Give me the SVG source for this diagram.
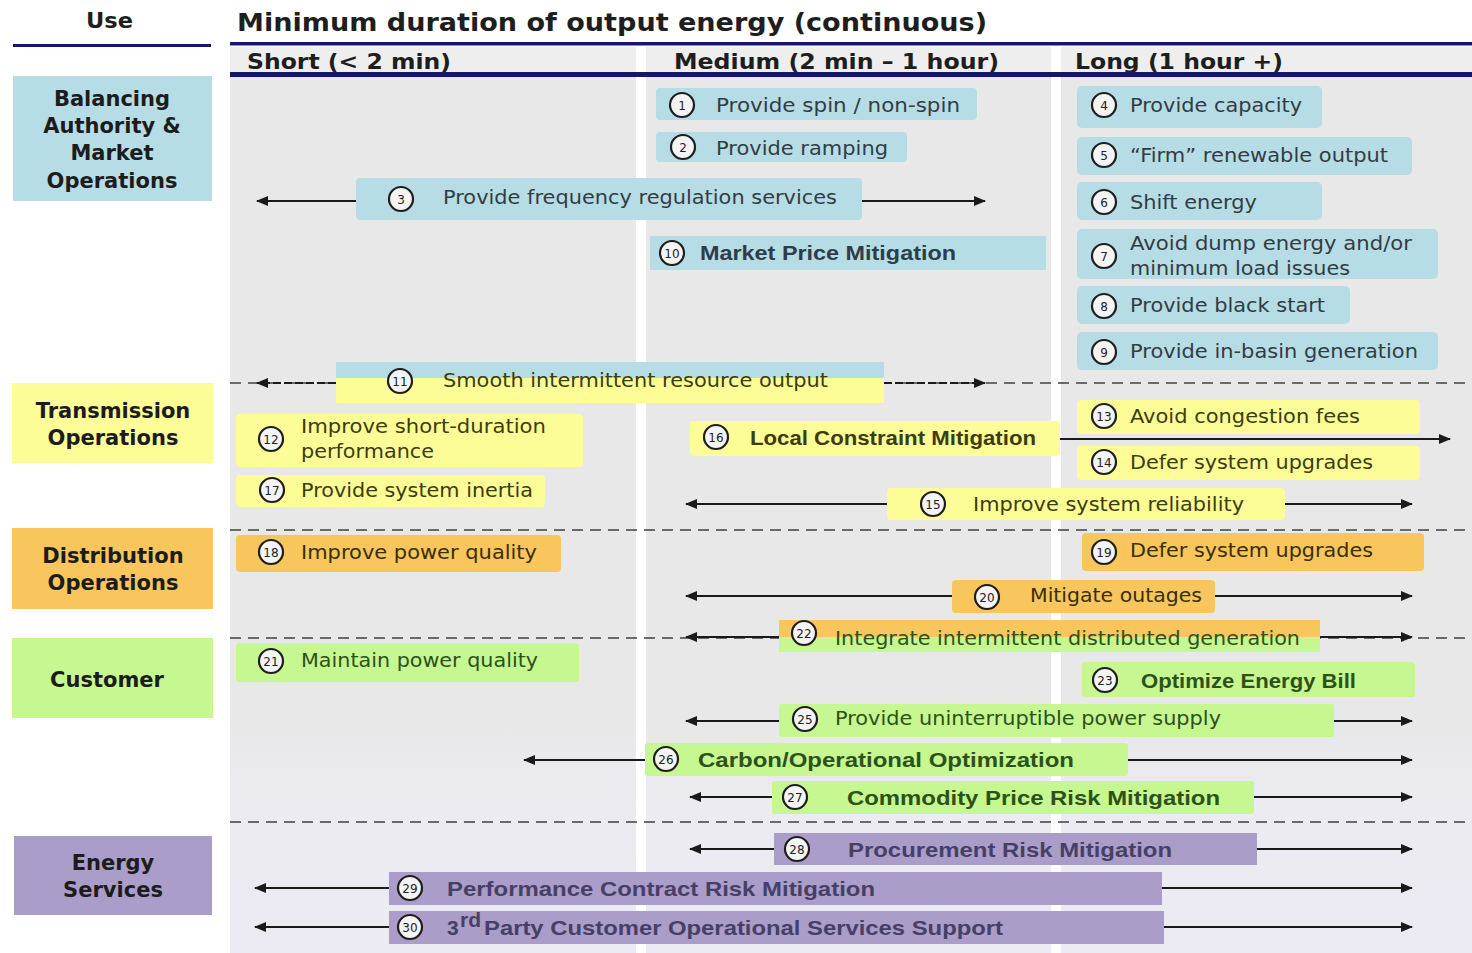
<svg xmlns="http://www.w3.org/2000/svg" width="1472" height="953" viewBox="0 0 1472 953">
  <defs>
    <linearGradient id="bgGrad" x1="0" y1="0" x2="0" y2="1">
      <stop offset="0" stop-color="#e8e8e8"/>
      <stop offset="0.74" stop-color="#e8e8e8"/>
      <stop offset="0.84" stop-color="#ecebf1"/>
      <stop offset="1" stop-color="#eceaf2"/>
    </linearGradient>
    <marker id="ah" markerUnits="userSpaceOnUse" markerWidth="12" markerHeight="10" refX="11" refY="5" orient="auto">
      <path d="M0,0 L12,5 L0,10 z" fill="#1a1a1a"/>
    </marker>
    <style>
      .hdr { font-family: "DejaVu Sans", Verdana, sans-serif; font-weight: bold; fill: #1e1e1e; }
      .cat { font-family: "DejaVu Sans", Verdana, sans-serif; font-weight: bold; font-size: 21px; fill: #1c1c1c; text-anchor: middle; }
      .t { font-family: "DejaVu Sans", Verdana, sans-serif; font-size: 19px; }
      .tb { font-family: "Liberation Sans", Arial, sans-serif; font-size: 21px; font-weight: bold; }
      .blue { fill: #b6dde5; }
      .yel { fill: #fdfd98; }
      .org { fill: #f8c65c; }
      .grn { fill: #c6f790; }
      .pur { fill: #aa9dc9; }
      .cb { fill: #323c44; }
      .cy { fill: #3c3c0c; }
      .co { fill: #3a2e05; }
      .cg { fill: #2c5219; }
      .cp { fill: #463f66; }
      .num circle { fill: #f4f4f4; stroke: #1e1e1e; stroke-width: 2.2; }
      .num text { font-family: "DejaVu Sans", Verdana, sans-serif; font-size: 12px; fill: #222; text-anchor: middle; }
      .dash { stroke: #6a6a6a; stroke-width: 2; stroke-dasharray: 11 7; fill: none; }
      .arr { stroke: #1a1a1a; stroke-width: 2.2; fill: none; marker-end: url(#ah); }
      .arrd { stroke: #1a1a1a; stroke-width: 2.2; fill: none; stroke-dasharray: 8 3; marker-end: url(#ah); }
      .navy { fill: #17176a; }
    </style>
  </defs>

  <!-- page and content panel -->
  <rect x="0" y="0" width="1472" height="953" fill="#ffffff"/>
  <rect x="230" y="47" width="1242" height="906" fill="url(#bgGrad)"/>
  <rect x="230" y="47" width="1242" height="27" fill="#eeeeee"/>
  <!-- column gutters -->
  <rect x="636" y="47" width="10" height="906" fill="#ffffff"/>
  <rect x="1051" y="47" width="10" height="906" fill="#ffffff"/>

  <!-- header -->
  <g id="header">
    <text class="hdr" x="86" y="28" font-size="22" textLength="47" lengthAdjust="spacingAndGlyphs">Use</text>
    <rect class="navy" x="13" y="44" width="198" height="3"/>
    <text class="hdr" x="237" y="31" font-size="24" textLength="750" lengthAdjust="spacingAndGlyphs">Minimum duration of output energy (continuous)</text>
    <rect class="navy" x="230" y="42" width="1242" height="3.5"/>
    <text class="hdr" x="247" y="69" font-size="21" textLength="204" lengthAdjust="spacingAndGlyphs">Short (&lt; 2 min)</text>
    <text class="hdr" x="674" y="69" font-size="21" textLength="325" lengthAdjust="spacingAndGlyphs">Medium (2 min – 1 hour)</text>
    <text class="hdr" x="1075" y="69" font-size="21" textLength="208" lengthAdjust="spacingAndGlyphs">Long (1 hour +)</text>
    <rect class="navy" x="230" y="72" width="1242" height="5"/>
  </g>

  <!-- row dividers -->
  <g id="dividers">
    <line class="dash" x1="230" y1="383" x2="1472" y2="383"/>
    <line class="dash" x1="230" y1="530" x2="1472" y2="530"/>
    <line class="dash" x1="230" y1="638" x2="1472" y2="638"/>
    <line class="dash" x1="230" y1="822" x2="1472" y2="822"/>
  </g>

  <!-- category labels -->
  <g id="cat-balancing">
    <rect class="blue" x="13" y="76" width="199" height="125"/>
    <text class="cat" x="112" y="106">Balancing</text>
    <text class="cat" x="112" y="133">Authority &amp;</text>
    <text class="cat" x="112" y="160">Market</text>
    <text class="cat" x="112" y="188">Operations</text>
  </g>
  <g id="cat-transmission">
    <rect class="yel" x="12" y="383" width="201" height="80"/>
    <text class="cat" x="113" y="418">Transmission</text>
    <text class="cat" x="113" y="445">Operations</text>
  </g>
  <g id="cat-distribution">
    <rect class="org" x="12" y="528" width="201" height="81"/>
    <text class="cat" x="113" y="563">Distribution</text>
    <text class="cat" x="113" y="590">Operations</text>
  </g>
  <g id="cat-customer">
    <rect class="grn" x="12" y="638" width="201" height="80"/>
    <text class="cat" x="107" y="687">Customer</text>
  </g>
  <g id="cat-energy-services">
    <rect class="pur" x="14" y="836" width="198" height="79"/>
    <text class="cat" x="113" y="870">Energy</text>
    <text class="cat" x="113" y="897">Services</text>
  </g>

  <!-- connectors -->
  <g id="connectors">
    <line class="arr" x1="356" y1="201" x2="257" y2="201"/>
    <line class="arr" x1="862" y1="201" x2="985" y2="201"/>
    <line class="arrd" x1="336" y1="383" x2="257" y2="383"/>
    <line class="arrd" x1="884" y1="383" x2="985" y2="383"/>
    <line class="arr" x1="1060" y1="439" x2="1450" y2="439"/>
    <line class="arr" x1="887" y1="504" x2="686" y2="504"/>
    <line class="arr" x1="1285" y1="504" x2="1412" y2="504"/>
    <line class="arr" x1="952" y1="596" x2="686" y2="596"/>
    <line class="arr" x1="1215" y1="596" x2="1412" y2="596"/>
    <line class="arr" x1="779" y1="637" x2="686" y2="637"/>
    <line class="arr" x1="1320" y1="637" x2="1412" y2="637"/>
    <line class="arr" x1="779" y1="721" x2="686" y2="721"/>
    <line class="arr" x1="1334" y1="721" x2="1412" y2="721"/>
    <line class="arr" x1="645" y1="760" x2="524" y2="760"/>
    <line class="arr" x1="1128" y1="760" x2="1412" y2="760"/>
    <line class="arr" x1="772" y1="797" x2="690" y2="797"/>
    <line class="arr" x1="1254" y1="797" x2="1412" y2="797"/>
    <line class="arr" x1="774" y1="849" x2="690" y2="849"/>
    <line class="arr" x1="1257" y1="849" x2="1412" y2="849"/>
    <line class="arr" x1="389" y1="888" x2="255" y2="888"/>
    <line class="arr" x1="1162" y1="888" x2="1412" y2="888"/>
    <line class="arr" x1="389" y1="927" x2="255" y2="927"/>
    <line class="arr" x1="1164" y1="927" x2="1412" y2="927"/>
  </g>

  <!-- Balancing Authority & Market Operations uses -->
  <g id="n1">
    <rect class="blue" x="656" y="88" width="321" height="32" rx="4"/>
    <g class="num"><circle cx="682" cy="105" r="12"/><text x="682" y="109.5">1</text></g>
    <text class="t cb" x="716" y="112" textLength="244" lengthAdjust="spacingAndGlyphs">Provide spin / non-spin</text>
  </g>
  <g id="n2">
    <rect class="blue" x="656" y="132" width="251" height="30" rx="4"/>
    <g class="num"><circle cx="683" cy="147" r="12"/><text x="683" y="151.5">2</text></g>
    <text class="t cb" x="716" y="155" textLength="172" lengthAdjust="spacingAndGlyphs">Provide ramping</text>
  </g>
  <g id="n3">
    <rect class="blue" x="356" y="178" width="506" height="42" rx="4"/>
    <g class="num"><circle cx="401" cy="199" r="12"/><text x="401" y="203.5">3</text></g>
    <text class="t cb" x="443" y="204" textLength="394" lengthAdjust="spacingAndGlyphs">Provide frequency regulation services</text>
  </g>
  <g id="n4">
    <rect class="blue" x="1077" y="86" width="245" height="42" rx="5"/>
    <g class="num"><circle cx="1104" cy="105" r="12"/><text x="1104" y="109.5">4</text></g>
    <text class="t cb" x="1130" y="112" textLength="172" lengthAdjust="spacingAndGlyphs">Provide capacity</text>
  </g>
  <g id="n5">
    <rect class="blue" x="1077" y="137" width="335" height="38" rx="5"/>
    <g class="num"><circle cx="1104" cy="155" r="12"/><text x="1104" y="159.5">5</text></g>
    <text class="t cb" x="1130" y="162" textLength="258" lengthAdjust="spacingAndGlyphs">“Firm” renewable output</text>
  </g>
  <g id="n6">
    <rect class="blue" x="1077" y="182" width="245" height="38" rx="5"/>
    <g class="num"><circle cx="1104" cy="202" r="12"/><text x="1104" y="206.5">6</text></g>
    <text class="t cb" x="1130" y="209" textLength="127" lengthAdjust="spacingAndGlyphs">Shift energy</text>
  </g>
  <g id="n7">
    <rect class="blue" x="1077" y="229" width="361" height="50" rx="5"/>
    <g class="num"><circle cx="1104" cy="256" r="12"/><text x="1104" y="260.5">7</text></g>
    <text class="t cb" x="1130" y="250" textLength="282" lengthAdjust="spacingAndGlyphs">Avoid dump energy and/or</text>
    <text class="t cb" x="1130" y="275" textLength="220" lengthAdjust="spacingAndGlyphs">minimum load issues</text>
  </g>
  <g id="n8">
    <rect class="blue" x="1077" y="286" width="273" height="38" rx="5"/>
    <g class="num"><circle cx="1104" cy="306" r="12"/><text x="1104" y="310.5">8</text></g>
    <text class="t cb" x="1130" y="312" textLength="195" lengthAdjust="spacingAndGlyphs">Provide black start</text>
  </g>
  <g id="n9">
    <rect class="blue" x="1077" y="332" width="361" height="38" rx="5"/>
    <g class="num"><circle cx="1104" cy="352" r="12"/><text x="1104" y="356.5">9</text></g>
    <text class="t cb" x="1130" y="358" textLength="288" lengthAdjust="spacingAndGlyphs">Provide in-basin generation</text>
  </g>
  <g id="n10">
    <rect class="blue" x="650" y="236" width="396" height="34"/>
    <g class="num"><circle cx="672" cy="253" r="12"/><text x="672" y="257.5">10</text></g>
    <text class="tb" x="700" y="260" fill="#2e3c4c" textLength="256" lengthAdjust="spacingAndGlyphs">Market Price Mitigation</text>
  </g>
  <g id="n11">
    <rect class="blue" x="336" y="362" width="548" height="16"/>
    <rect class="yel" x="336" y="378" width="548" height="25"/>
    <g class="num"><circle cx="400" cy="381" r="12"/><text x="400" y="385.5">11</text></g>
    <text class="t cy" x="443" y="387" textLength="385" lengthAdjust="spacingAndGlyphs">Smooth intermittent resource output</text>
  </g>

  <!-- Transmission Operations uses -->
  <g id="n12">
    <rect class="yel" x="236" y="414" width="347" height="53" rx="4"/>
    <g class="num"><circle cx="271" cy="439" r="12"/><text x="271" y="443.5">12</text></g>
    <text class="t cy" x="301" y="433" textLength="245" lengthAdjust="spacingAndGlyphs">Improve short-duration</text>
    <text class="t cy" x="301" y="458" textLength="133" lengthAdjust="spacingAndGlyphs">performance</text>
  </g>
  <g id="n13">
    <rect class="yel" x="1077" y="400" width="343" height="34" rx="4"/>
    <g class="num"><circle cx="1104" cy="416" r="12"/><text x="1104" y="420.5">13</text></g>
    <text class="t cy" x="1130" y="423" textLength="230" lengthAdjust="spacingAndGlyphs">Avoid congestion fees</text>
  </g>
  <g id="n14">
    <rect class="yel" x="1077" y="446" width="343" height="34" rx="4"/>
    <g class="num"><circle cx="1104" cy="462" r="12"/><text x="1104" y="466.5">14</text></g>
    <text class="t cy" x="1130" y="469" textLength="243" lengthAdjust="spacingAndGlyphs">Defer system upgrades</text>
  </g>
  <g id="n15">
    <rect class="yel" x="887" y="488" width="398" height="32" rx="4"/>
    <g class="num"><circle cx="933" cy="504" r="12"/><text x="933" y="508.5">15</text></g>
    <text class="t cy" x="973" y="511" textLength="271" lengthAdjust="spacingAndGlyphs">Improve system reliability</text>
  </g>
  <g id="n16">
    <rect class="yel" x="690" y="421" width="370" height="35" rx="4"/>
    <g class="num"><circle cx="716" cy="437" r="12"/><text x="716" y="441.5">16</text></g>
    <text class="tb" x="750" y="445" fill="#3c3c0c" textLength="286" lengthAdjust="spacingAndGlyphs">Local Constraint Mitigation</text>
  </g>
  <g id="n17">
    <rect class="yel" x="236" y="475" width="309" height="32" rx="4"/>
    <g class="num"><circle cx="272" cy="490" r="12"/><text x="272" y="494.5">17</text></g>
    <text class="t cy" x="301" y="497" textLength="232" lengthAdjust="spacingAndGlyphs">Provide system inertia</text>
  </g>

  <!-- Distribution Operations uses -->
  <g id="n18">
    <rect class="org" x="236" y="535" width="325" height="37" rx="4"/>
    <g class="num"><circle cx="271" cy="552" r="12"/><text x="271" y="556.5">18</text></g>
    <text class="t co" x="301" y="559" textLength="236" lengthAdjust="spacingAndGlyphs">Improve power quality</text>
  </g>
  <g id="n19">
    <rect class="org" x="1082" y="533" width="342" height="38" rx="4"/>
    <g class="num"><circle cx="1104" cy="552" r="12"/><text x="1104" y="556.5">19</text></g>
    <text class="t co" x="1130" y="557" textLength="243" lengthAdjust="spacingAndGlyphs">Defer system upgrades</text>
  </g>
  <g id="n20">
    <rect class="org" x="952" y="580" width="263" height="33" rx="4"/>
    <g class="num"><circle cx="987" cy="597" r="12"/><text x="987" y="601.5">20</text></g>
    <text class="t co" x="1030" y="602" textLength="172" lengthAdjust="spacingAndGlyphs">Mitigate outages</text>
  </g>
  <g id="n22">
    <rect class="org" x="779" y="620" width="541" height="17"/>
    <rect class="grn" x="779" y="637" width="541" height="15"/>
    <g class="num"><circle cx="804" cy="633" r="12"/><text x="804" y="637.5">22</text></g>
    <text class="t cg" x="835" y="645" textLength="465" lengthAdjust="spacingAndGlyphs">Integrate intermittent distributed generation</text>
  </g>

  <!-- Customer uses -->
  <g id="n21">
    <rect class="grn" x="236" y="643" width="343" height="39" rx="4"/>
    <g class="num"><circle cx="271" cy="661" r="12"/><text x="271" y="665.5">21</text></g>
    <text class="t cg" x="301" y="667" textLength="237" lengthAdjust="spacingAndGlyphs">Maintain power quality</text>
  </g>
  <g id="n23">
    <rect class="grn" x="1082" y="662" width="333" height="35" rx="3"/>
    <g class="num"><circle cx="1105" cy="680" r="12"/><text x="1105" y="684.5">23</text></g>
    <text class="tb cg" x="1141" y="688" textLength="215" lengthAdjust="spacingAndGlyphs">Optimize Energy Bill</text>
  </g>
  <g id="n25">
    <rect class="grn" x="779" y="704" width="555" height="33" rx="3"/>
    <g class="num"><circle cx="805" cy="719" r="12"/><text x="805" y="723.5">25</text></g>
    <text class="t cg" x="835" y="725" textLength="386" lengthAdjust="spacingAndGlyphs">Provide uninterruptible power supply</text>
  </g>
  <g id="n26">
    <rect class="grn" x="645" y="743" width="483" height="33" rx="3"/>
    <g class="num"><circle cx="666" cy="759" r="12"/><text x="666" y="763.5">26</text></g>
    <text class="tb cg" x="698" y="767" textLength="376" lengthAdjust="spacingAndGlyphs">Carbon/Operational Optimization</text>
  </g>
  <g id="n27">
    <rect class="grn" x="772" y="781" width="482" height="33" rx="3"/>
    <g class="num"><circle cx="795" cy="797" r="12"/><text x="795" y="801.5">27</text></g>
    <text class="tb cg" x="847" y="805" textLength="373" lengthAdjust="spacingAndGlyphs">Commodity  Price Risk Mitigation</text>
  </g>

  <!-- Energy Services uses -->
  <g id="n28">
    <rect class="pur" x="774" y="833" width="483" height="32"/>
    <g class="num"><circle cx="797" cy="849" r="12"/><text x="797" y="853.5">28</text></g>
    <text class="tb cp" x="848" y="857" textLength="324" lengthAdjust="spacingAndGlyphs">Procurement Risk Mitigation</text>
  </g>
  <g id="n29">
    <rect class="pur" x="389" y="872" width="773" height="33"/>
    <g class="num"><circle cx="410" cy="888" r="12"/><text x="410" y="892.5">29</text></g>
    <text class="tb cp" x="447" y="896" textLength="428" lengthAdjust="spacingAndGlyphs">Performance Contract Risk Mitigation</text>
  </g>
  <g id="n30">
    <rect class="pur" x="389" y="911" width="775" height="33"/>
    <g class="num"><circle cx="410" cy="927" r="12"/><text x="410" y="931.5">30</text></g>
    <text class="tb cp" x="447" y="935">3</text>
    <text class="tb cp" x="460" y="927" font-size="11">rd</text>
    <text class="tb cp" x="484" y="935" textLength="519" lengthAdjust="spacingAndGlyphs">Party Customer Operational Services Support</text>
  </g>
</svg>
